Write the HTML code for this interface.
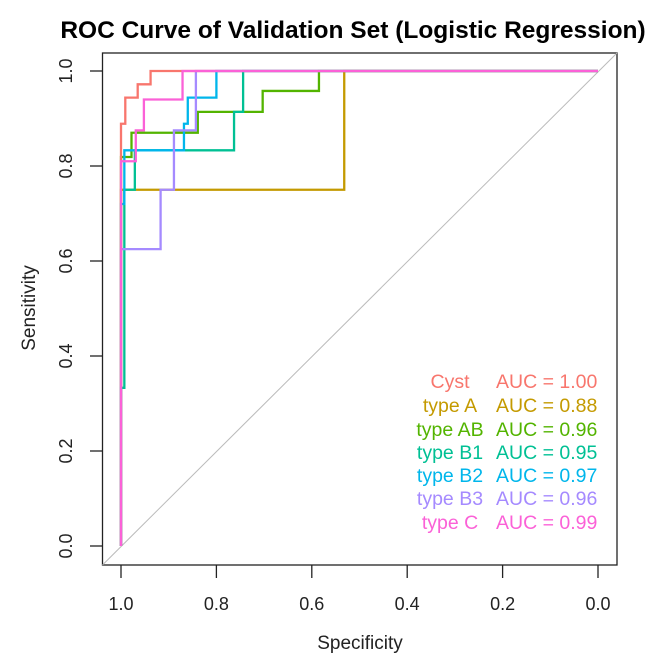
<!DOCTYPE html>
<html><head><meta charset="utf-8"><style>
body{margin:0;background:#fff}
svg{display:block;font-family:"Liberation Sans",Arial,sans-serif}
</style></head><body>
<svg id="chart" width="669" height="669" viewBox="0 0 669 669">
<text x="353" y="38" text-anchor="middle" font-size="24.5" font-weight="bold">ROC Curve of Validation Set (Logistic Regression)</text>
<rect x="102.5" y="53" width="514.5" height="512" fill="none" stroke="#222" stroke-width="1.3"/>
<g id="axes"></g>
<g id="series"></g>
<g id="legend"></g>
<text x="360" y="649" text-anchor="middle" font-size="19" fill="#222">Specificity</text>
<text x="35" y="308" text-anchor="middle" font-size="19" fill="#222" transform="rotate(-90 35 308)">Sensitivity</text>
</svg>
<script>
const xTicks=[1.0,0.8,0.6,0.4,0.2,0.0];
const yTicks=[0.0,0.2,0.4,0.6,0.8,1.0];
const seriesNames=["Cyst","type A","type AB","type B1","type B2","type B3","type C"];
const aucValues=[1.00,0.88,0.96,0.95,0.97,0.96,0.99];
const colors=["#F8766D","#C49A00","#53B400","#00C094","#00B6EB","#A58AFF","#FB61D7"];
const cystSpec=[1,1,0.991,0.991,0.965,0.965,0.938,0.938,0];
const cystSens=[0,0.889,0.889,0.944,0.944,0.972,0.972,1,1];
const typeASpec=[1,1,0.532,0.532,0];
const typeASens=[0,0.75,0.75,1,1];
const typeABSpec=[1,1,0.978,0.978,0.839,0.839,0.703,0.703,0.585,0.585,0];
const typeABSens=[0,0.819,0.819,0.87,0.87,0.914,0.914,0.958,0.958,1,1];
const typeB1Spec=[1,1,0.993,0.993,0.971,0.971,0.763,0.763,0.744,0.744,0];
const typeB1Sens=[0,0.333,0.333,0.75,0.75,0.833,0.833,0.914,0.914,1,1];
const typeB2Spec=[1,1,0.993,0.993,0.868,0.868,0.86,0.86,0.80,0.80,0];
const typeB2Sens=[0,0.72,0.72,0.833,0.833,0.889,0.889,0.944,0.944,1,1];
const typeB3Spec=[1,1,0.917,0.917,0.889,0.889,0.843,0.843,0];
const typeB3Sens=[0,0.625,0.625,0.75,0.75,0.875,0.875,1,1];
const typeCSpec=[1,1,0.969,0.969,0.952,0.952,0.871,0.871,0];
const typeCSens=[0,0.81,0.81,0.875,0.875,0.94,0.94,1,1];
const specs=[cystSpec,typeASpec,typeABSpec,typeB1Spec,typeB2Spec,typeB3Spec,typeCSpec];
const sens=[cystSens,typeASens,typeABSens,typeB1Sens,typeB2Sens,typeB3Sens,typeCSens];

const NS="http://www.w3.org/2000/svg";
const X=v=>121+(1-v)*477;
const Y=v=>546-v*475;
function mk(t,a,p){const e=document.createElementNS(NS,t);for(const k in a)e.setAttribute(k,a[k]);p.appendChild(e);return e;}
const ax=document.getElementById('axes');
xTicks.forEach(v=>{
 const t=mk('line',{x1:X(v),x2:X(v),y1:565,y2:578,stroke:'#222','stroke-width':1.3},ax);
 
 
 const s=mk('text',{x:X(v),y:610,'text-anchor':'middle','font-size':18,fill:'#222'},ax);
 s.textContent=v.toFixed(1);
 
 
});
yTicks.forEach(v=>{
 const t=mk('line',{x1:90,x2:103,y1:Y(v),y2:Y(v),stroke:'#222','stroke-width':1.3},ax);
 
 
 const s=mk('text',{x:72,y:Y(v),'text-anchor':'middle','font-size':18,fill:'#222',transform:`rotate(-90 72 ${Y(v)})`},ax);
 s.textContent=v.toFixed(1);
 
 
});
const sg=document.getElementById('series');
const d=mk('line',{x1:102.5,y1:565,x2:617,y2:53,stroke:'#bbb','stroke-width':1},sg);


[1,2,3,4,5,0,6].forEach(i=>{
 const pts=specs[i].map((s,j)=>X(s)+','+Y(sens[i][j])).join(' ');
 const p=mk('polyline',{points:pts,fill:'none',stroke:colors[i],'stroke-width':2.3},sg);
 
 
});
const lg=document.getElementById('legend');
const rows=[381,405,429,452,475,498,522];
seriesNames.forEach((n,i)=>{
 const a=mk('text',{x:450,y:rows[i]+7,'text-anchor':'middle','font-size':19.5,fill:colors[i]},lg);
 a.textContent=n;
 
 
 const b=mk('text',{x:496,y:rows[i]+7,'font-size':19.5,fill:colors[i]},lg);
 b.textContent='AUC = '+aucValues[i].toFixed(2);
 
 
});
</script>
</body></html>
